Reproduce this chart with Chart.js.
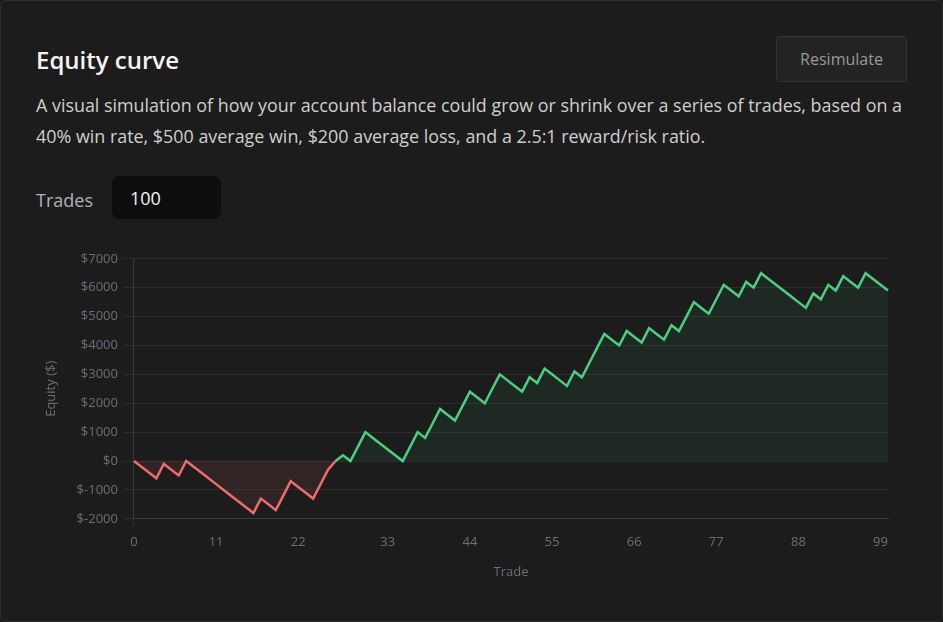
<!DOCTYPE html>
<html>
<head>
<meta charset="utf-8">
<script src="https://cdn.jsdelivr.net/npm/chart.js@4.4.0/dist/chart.umd.min.js"></script>
<style>
  html, body { margin: 0; padding: 0; background: #1b1b1b; }
  body { width: 943px; height: 622px; overflow: hidden; font-family: "Open Sans", sans-serif; position: relative; }
  .card { position: absolute; left: 0; top: 0; width: 941px; height: 620px; border: 1px solid #2e2e2e; border-radius: 6px; background: #1c1c1c; }
  .title { position: absolute; left: 36px; top: 43px; margin: 0; font-size: 24px; font-weight: 600; color: #f4f4f4; }
  .desc { position: absolute; left: 36px; top: 90px; margin: 0; font-size: 17.9px; line-height: 31px; color: #cfcfcf; white-space: nowrap; }
  .btn { position: absolute; left: 776px; top: 36px; width: 131px; height: 46px; box-sizing: border-box; border: 1px solid #343434; border-radius: 4px; background: #232323; color: #9a9a9a; font-size: 16px; line-height: 44px; text-align: center; }
  .lbl { position: absolute; left: 36px; top: 188px; font-size: 18px; color: #b0b3ba; }
  .inp { position: absolute; left: 112px; top: 176px; width: 109px; height: 43px; box-sizing: border-box; border-radius: 8px; background: #0d0d0d; color: #f4f4f4; font-size: 18px; line-height: 45px; padding-left: 18px; }
  .wrap { position: absolute; left: 30px; top: 246px; width: 868px; height: 338px; }
</style>
</head>
<body>
<div class="card"></div>
<h2 class="title">Equity curve</h2>
<p class="desc">A visual simulation of how your account balance could grow or shrink over a series of trades, based on a<br>40% win rate, $500 average win, $200 average loss, and a 2.5:1 reward/risk ratio.</p>
<div class="btn">Resimulate</div>
<div class="lbl">Trades</div>
<div class="inp">100</div>
<div class="wrap"><canvas id="equityChart"></canvas></div>
<script>
// trade numbers (26.6 = point where the curve crosses $0)
const trades = [0, 1, 2, 3, 4, 5, 6, 7, 8, 9, 10, 11, 12, 13, 14, 15, 16, 17, 18, 19, 20,
  21, 22, 23, 24, 25, 26, 26.6, 27, 28, 29, 30, 31, 32, 33, 34, 35, 36, 37, 38, 39, 40,
  41, 42, 43, 44, 45, 46, 47, 48, 49, 50, 51, 52, 53, 54, 55, 56, 57, 58, 59, 60,
  61, 62, 63, 64, 65, 66, 67, 68, 69, 70, 71, 72, 73, 74, 75, 76, 77, 78, 79, 80,
  81, 82, 83, 84, 85, 86, 87, 88, 89, 90, 91, 92, 93, 94, 95, 96, 97, 98, 99, 100];

// account balance after each trade
const equity = [0, -200, -400, -600, -100, -300, -500, 0, -200, -400, -600,
  -800, -1000, -1200, -1400, -1600, -1800, -1300, -1500, -1700, -1200,
  -700, -900, -1100, -1300, -800, -300, 0, 200, 0, 500, 1000,
  800, 600, 400, 200, 0, 500, 1000, 800, 1300, 1800,
  1600, 1400, 1900, 2400, 2200, 2000, 2500, 3000, 2800, 2600,
  2400, 2900, 2700, 3200, 3000, 2800, 2600, 3100, 2900, 3400,
  3900, 4400, 4200, 4000, 4500, 4300, 4100, 4600, 4400, 4200,
  4700, 4500, 5000, 5500, 5300, 5100, 5600, 6100, 5900, 5700,
  6200, 6000, 6500, 6300, 6100, 5900, 5700, 5500, 5300, 5800,
  5600, 6100, 5900, 6400, 6200, 6000, 6500, 6300, 6100, 5900];

const yTicks = [-2000, -1000, 0, 1000, 2000, 3000, 4000, 5000, 6000, 7000];
const tickEvery = 11;

const green = '#4ad07f';
const red = '#f06b6b';
const gridColor = 'rgba(255, 255, 255, 0.07)';
const textColor = '#6c6f77';

function showTick(i) {
  const t = trades[i];
  return Number.isInteger(t) && t % tickEvery === 0 && t < 100;
}

const ctx = document.getElementById('equityChart').getContext('2d');
const equityChart = new Chart(ctx, {
  type: 'line',
  data: {
    labels: trades,
    datasets: [{
      label: 'Equity',
      data: equity,
      borderWidth: 2.5,
      pointRadius: 0,
      tension: 0,
      borderColor: green,
      segment: {
        borderColor: c => (c.p0.parsed.y + c.p1.parsed.y) / 2 < 0 ? red : green
      },
      fill: {
        target: 'origin',
        above: 'rgba(74, 208, 127, 0.08)',
        below: 'rgba(240, 107, 107, 0.1)'
      }
    }]
  },
  options: {
    responsive: true,
    maintainAspectRatio: false,
    animation: false,
    layout: { padding: { left: 9, right: 10, top: 10, bottom: 0 } },
    plugins: {
      legend: { display: false },
      tooltip: { enabled: false }
    },
    scales: {
      x: {
        grid: {
          color: c => (c.tick && showTick(c.index)) ? gridColor : 'transparent',
          tickLength: 7
        },
        border: { color: gridColor },
        ticks: {
          color: textColor,
          font: { family: 'Open Sans', size: 13 },
          autoSkip: false,
          maxRotation: 0,
          padding: 9,
          callback: (v, i) => showTick(i) ? String(trades[i]) : null
        },
        title: {
          display: true,
          text: 'Trade',
          color: textColor,
          padding: { top: 5, bottom: 4 },
          font: { family: 'Open Sans', size: 13 }
        }
      },
      y: {
        min: -2000,
        max: 7000,
        afterBuildTicks: axis => { axis.ticks = yTicks.map(v => ({ value: v })); },
        grid: { color: gridColor, tickLength: 11 },
        border: { color: gridColor },
        ticks: {
          color: textColor,
          padding: 5,
          font: { family: 'Open Sans', size: 13 },
          callback: v => '$' + v
        },
        title: {
          display: true,
          text: 'Equity ($)',
          color: textColor,
          padding: { top: 4, bottom: 13 },
          font: { family: 'Open Sans', size: 13 }
        }
      }
    }
  }
});
</script>
</body>
</html>
